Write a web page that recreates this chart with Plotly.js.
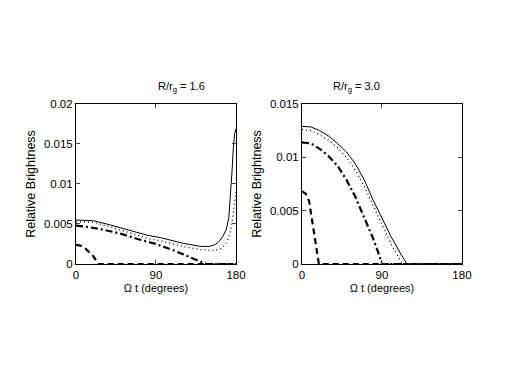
<!DOCTYPE html>
<html>
<head>
<meta charset="utf-8">
<script src="https://cdn.plot.ly/plotly-3.0.1.min.js"></script>
<style>
  html, body { margin: 0; padding: 0; background: #fff; }
  #plot { width: 511px; height: 385px; }
</style>
</head>
<body>
<div id="plot"></div>
<script>
// left panel, R/rg = 1.6
var solidX1  = [0, 20, 38, 60, 80, 95, 120, 140, 150, 156, 160, 165, 169, 172, 174, 175.5, 177, 178.5, 180];
var solidY1  = [0.0055, 0.0054, 0.0049, 0.0042, 0.0036, 0.0033, 0.0026, 0.0022, 0.0022, 0.0024, 0.0027, 0.0034, 0.0043, 0.0058, 0.0085, 0.0115, 0.0145, 0.0163, 0.0169];
var dotX1    = [0, 20, 40, 60, 80, 95, 120, 140, 155, 163, 168, 172, 175, 178, 180];
var dotY1    = [0.0053, 0.0052, 0.0046, 0.0039, 0.0032, 0.0029, 0.0022, 0.0018, 0.0017, 0.0019, 0.0024, 0.0033, 0.0048, 0.0072, 0.0092];
var dashdotX1 = [0, 15, 30, 50, 70, 90, 110, 128, 140, 147, 180];
var dashdotY1 = [0.0048, 0.0046, 0.0043, 0.0038, 0.0031, 0.0025, 0.0017, 0.0008, 0.0003, 0, 0];
var dashX1   = [0, 5, 10, 15, 20, 25, 180];
var dashY1   = [0.0024, 0.0023, 0.0020, 0.0015, 0.0009, 0, 0];

// right panel, R/rg = 3.0
var solidX2  = [0, 10, 20, 30, 40, 50, 60, 70, 80, 90, 100, 110, 118, 180];
var solidY2  = [0.0129, 0.01285, 0.0125, 0.0120, 0.0113, 0.0105, 0.0094, 0.0079, 0.0060, 0.0043, 0.0026, 0.0011, 0, 0];
var dotX2    = [0, 10, 20, 30, 40, 50, 60, 70, 80, 90, 100, 110, 113, 180];
var dotY2    = [0.0126, 0.0125, 0.0121, 0.0116, 0.0109, 0.0100, 0.0088, 0.0073, 0.0055, 0.0037, 0.0019, 0.0004, 0, 0];
var dashdotX2 = [0, 10, 20, 30, 40, 50, 60, 70, 80, 87, 90, 180];
var dashdotY2 = [0.0114, 0.0113, 0.0108, 0.0101, 0.0092, 0.0079, 0.0063, 0.0044, 0.0024, 0.0008, 0, 0];
var dashX2   = [0, 4, 8, 11, 14, 17, 19, 180];
var dashY2   = [0.0068, 0.0066, 0.0059, 0.0042, 0.0025, 0.0009, 0, 0];

var xTicks = [0, 90, 180];
var yTicks1 = [0, 0.005, 0.01, 0.015, 0.02];
var yTicks2 = [0, 0.005, 0.01, 0.015];

function line(x, y, dash, w, xa, ya) {
  return {x: x, y: y, xaxis: xa, yaxis: ya, mode: "lines", type: "scatter",
          line: {color: "#000", width: w, dash: dash}, hoverinfo: "none"};
}

var data = [
  line(dashX1, dashY1, "6px,4px", 2.2, "x", "y"),
  line(dashdotX1, dashdotY1, "7px,3px,2px,3px", 2.2, "x", "y"),
  line(dotX1, dotY1, "1px,3px", 1.3, "x", "y"),
  line(solidX1, solidY1, "solid", 1, "x", "y"),
  line(dashX2, dashY2, "6px,4px", 2.2, "x2", "y2"),
  line(dashdotX2, dashdotY2, "7px,3px,2px,3px", 2.2, "x2", "y2"),
  line(dotX2, dotY2, "1px,3px", 1.3, "x2", "y2"),
  line(solidX2, solidY2, "solid", 1, "x2", "y2")
];

var fam = "Liberation Sans, Arial, sans-serif";
var tickFont = {family: fam, size: 11.5, color: "#000"};
var font = {family: fam, size: 11, color: "#000"};
var yTitleFont = {family: fam, size: 12.5, color: "#000"};

function xax(dom, anchor) {
  return {domain: dom, anchor: anchor, range: [0, 180], tickvals: xTicks,
          ticks: "inside", ticklen: 4, showline: true, linecolor: "#000", linewidth: 1,
          mirror: "ticks", showgrid: false, zeroline: false, tickfont: tickFont,
          title: {text: "\u03a9 t (degrees)", font: font, standoff: 4}};
}
function yax(dom, anchor, top, vals) {
  return {domain: dom, anchor: anchor, range: [0, top], tickvals: vals,
          ticks: "inside", ticklen: 4, showline: true, linecolor: "#000", linewidth: 1,
          mirror: "ticks", showgrid: false, zeroline: false, tickfont: tickFont,
          title: {text: "Relative Brightness", font: yTitleFont, standoff: 5}};
}

var layout = {
  width: 511, height: 385,
  margin: {l: 0, r: 0, t: 0, b: 0},
  paper_bgcolor: "#fff", plot_bgcolor: "#fff",
  showlegend: false,
  font: font,
  xaxis: xax([0.1487, 0.4618], "y"),
  yaxis: yax([0.3143, 0.7299], "x", 0.02, yTicks1),
  xaxis2: xax([0.591, 0.904], "y2"),
  yaxis2: yax([0.3143, 0.7299], "x2", 0.015, yTicks2),
  annotations: [
    {text: "R/r<sub>g</sub> = 1.6", xref: "paper", yref: "paper", x: 0.3053, y: 0.7299,
     yshift: 8, yanchor: "bottom", showarrow: false, font: font},
    {text: "R/r<sub>g</sub> = 3.0", xref: "paper", yref: "paper", x: 0.7475, y: 0.7299,
     yshift: 8, yanchor: "bottom", showarrow: false, font: font}
  ]
};

Plotly.newPlot("plot", data, layout, {displayModeBar: false, staticPlot: true});
</script>
</body>
</html>
